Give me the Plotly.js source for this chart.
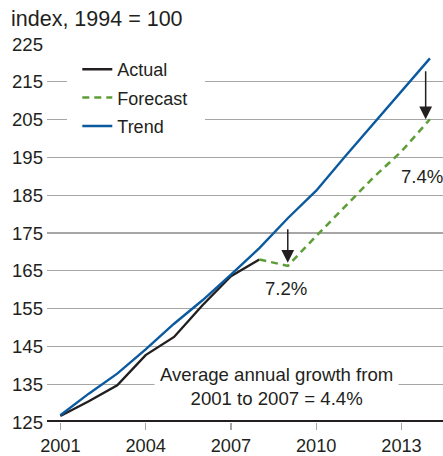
<!DOCTYPE html>
<html>
<head>
<meta charset="utf-8">
<script src="https://cdn.plot.ly/plotly-3.0.1.min.js"></script>
<style>html,body{margin:0;padding:0;background:#fff;}#chart{width:443px;height:456px;}</style>
</head>
<body>
<div id="chart"></div>
<script>
// ---- data ----
const actualYears = [2001, 2002, 2003, 2004, 2005, 2006, 2007, 2008];
const actualValues = [126.6, 130.5, 134.7, 142.7, 147.5, 155.9, 163.6, 168.0];
const forecastYears = [2008, 2009, 2010, 2011, 2012, 2013, 2014];
const forecastValues = [168.0, 166.3, 174.2, 181.8, 189.6, 196.6, 205.1];
const trendYears = [2001, 2002, 2003, 2004, 2005, 2006, 2007, 2008, 2009, 2010, 2011, 2012, 2013, 2014];
const trendValues = [126.8, 132.5, 137.8, 144.2, 151.0, 157.2, 164.0, 171.0, 178.9, 186.2, 195.1, 203.8, 212.8, 221.2];
const seriesNames = ["Actual", "Forecast", "Trend"];
const yTickValues = [125, 135, 145, 155, 165, 175, 185, 195, 205, 215, 225];
const xTickValues = [2001, 2004, 2007, 2010, 2013];
const gap2009 = "7.2%";
const gap2014 = "7.4%";
const noteText = "Average annual growth from<br>2001 to 2007 = 4.4%";
const titleText = "index, 1994 = 100";

const ink = "#231f20";
const font = "Liberation Sans, Arial, Helvetica, sans-serif";
const fs = 18.6;

const traces = [
  {x: actualYears, y: actualValues, name: seriesNames[0], mode: "lines", legendgroup: "a",
   line: {color: ink, width: 2.4}},
  {x: forecastYears, y: forecastValues, name: seriesNames[1], mode: "lines", legendgroup: "f",
   line: {color: "#5c9e36", width: 2.5, dash: "7px,5px"}},
  {x: trendYears, y: trendValues, name: seriesNames[2], mode: "lines", legendgroup: "t",
   line: {color: "#0b5aa0", width: 2.4}}
];

const iF09 = forecastYears.indexOf(2009);
const iF14 = forecastYears.length - 1;
const iT14 = trendYears.length - 1;

const layout = {
  width: 443, height: 456,
  margin: {l: 47, r: 0, t: 44, b: 34.3, pad: 0},
  paper_bgcolor: "#fff", plot_bgcolor: "#fff",
  font: {family: font, size: fs, color: ink},
  title: {text: titleText, font: {family: font, size: 21.5, color: ink},
          xref: "container", yref: "container", x: 11/443, xanchor: "left",
          y: 1 - 18/456, yanchor: "middle", pad: {t: 0, b: 0, l: 0, r: 0}},
  showlegend: true,
  legend: {x: (77.3 - 47) / 396, xanchor: "left", y: 1 - (51 - 44) / 377.7, yanchor: "top",
           bgcolor: "#fff", borderwidth: 0, traceorder: "grouped", tracegroupgap: 2,
           font: {family: font, size: 18, color: ink}},
  xaxis: {range: [2000.53, 2014.46], tickmode: "array", tickvals: xTickValues,
          ticks: "outside", ticklen: 7, tickwidth: 1.3, tickcolor: "#a6a6a6",
          ticklabelstandoff: 0,
          showgrid: false, zeroline: false, showline: false, fixedrange: true,
          tickfont: {family: font, size: 18.2, color: ink}},
  yaxis: {range: [125, 225], tickmode: "array", tickvals: yTickValues,
          showgrid: true, gridcolor: "#a6a6a6", gridwidth: 1.3, zeroline: false, showline: false,
          ticks: "", ticklabelstandoff: 3, fixedrange: true,
          tickfont: {family: font, size: fs, color: ink}},
  shapes: [
    {type: "rect", xref: "x", yref: "y", layer: "between",
     x0: 2000.53 + (67 - 47) / 28.43, x1: 2000.53 + (205 - 47) / 28.43, y0: 200, y1: 221,
     fillcolor: "#fff", line: {width: 0}},
    {type: "line", xref: "paper", yref: "y", x0: 0, x1: 1, y0: 125, y1: 125,
     line: {color: ink, width: 4}, layer: "above"}
  ],
  annotations: [
    {x: 2009, y: forecastValues[iF09] + 0.8, ax: 2009, ay: forecastValues[iF09] + 10.1,
     xref: "x", yref: "y", axref: "x", ayref: "y", text: "", showarrow: true,
     arrowhead: 2, arrowsize: 1.7, arrowwidth: 1.5, arrowcolor: ink, standoff: 0},
    {x: 2013.85, y: forecastValues[iF14], ax: 2013.85, ay: trendValues[iT14] - 3,
     xref: "x", yref: "y", axref: "x", ayref: "y", text: "", showarrow: true,
     arrowhead: 2, arrowsize: 1.7, arrowwidth: 1.5, arrowcolor: ink, standoff: 0},
    {x: 2008.95, y: 160.4, xref: "x", yref: "y", text: gap2009, showarrow: false,
     font: {family: font, size: fs, color: ink}, xanchor: "center", yanchor: "middle"},
    {x: 2013.71, y: 189.9, xref: "x", yref: "y", text: gap2014, showarrow: false,
     font: {family: font, size: fs, color: ink}, xanchor: "center", yanchor: "middle"},
    {x: 2008.6, y: 134.5, xref: "x", yref: "y", text: noteText, showarrow: false,
     bgcolor: "#fff", borderpad: 5, align: "center",
     font: {family: font, size: fs, color: ink}, xanchor: "center", yanchor: "middle"}
  ]
};

Plotly.newPlot("chart", traces, layout, {displayModeBar: false, staticPlot: true});
</script>
</body>
</html>
